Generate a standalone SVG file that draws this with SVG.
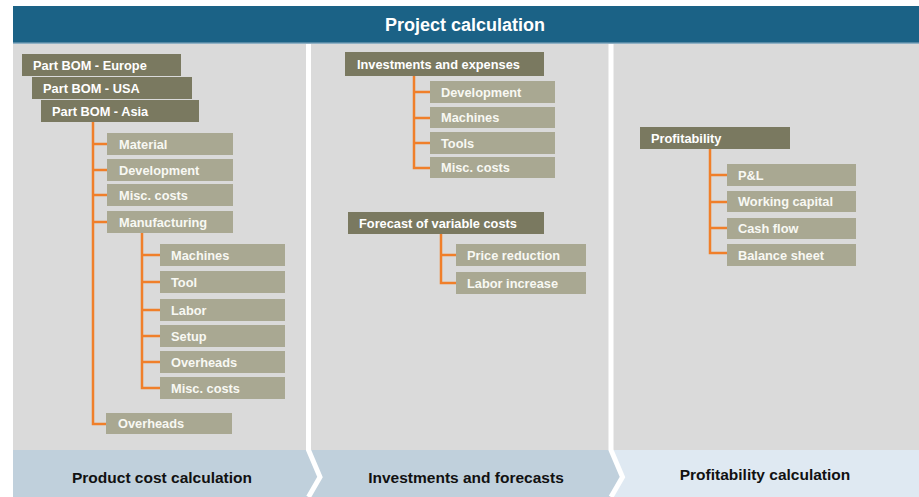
<svg xmlns="http://www.w3.org/2000/svg" width="919" height="497" viewBox="0 0 919 497">
<defs>
<style>
.hd{fill:#1b6286}
.panel{fill:#dadada}
.band1{fill:#c0d0dc}
.band2{fill:#dfe9f2}
.dk{fill:#7a7960}
.lt{fill:#a9a892}
.t{font-family:"Liberation Sans",Arial,sans-serif;font-weight:bold;font-size:12.8px;fill:#ffffff}
.tl{font-family:"Liberation Sans",Arial,sans-serif;font-weight:bold;font-size:12.8px;fill:#f8f8f3}
.ht{font-family:"Liberation Sans",Arial,sans-serif;font-weight:bold;font-size:18px;fill:#ffffff}
.bt{font-family:"Liberation Sans",Arial,sans-serif;font-weight:bold;font-size:15.5px;fill:#111111}
.c{fill:none;stroke:#f07f2a;stroke-width:2.5}
.sep{fill:none;stroke:#ffffff;stroke-width:5}
</style>
</defs>
<rect x="0" y="0" width="919" height="497" fill="#ffffff"/>
<g id="header">
<rect class="hd" x="13" y="6" width="906" height="37"/>
<rect x="13" y="42.5" width="906" height="1.5" fill="#8fb0c4"/>
<text class="ht" x="465" y="31" text-anchor="middle">Project calculation</text>
</g>
<g id="panels">
<rect class="panel" x="13" y="44" width="906" height="406"/>
<rect class="band1" x="13" y="450" width="601" height="47"/>
<rect class="band2" x="614" y="450" width="305" height="47"/>
<polygon class="band1" points="611,450 623,477 611,497 605,497 605,450"/>
<polyline class="sep" points="308.5,44 308.5,450 320,477 308.5,497"/>
<polyline class="sep" points="611,44 611,450 622.5,477 611,497"/>
<text class="bt" x="162" y="483" text-anchor="middle">Product cost calculation</text>
<text class="bt" x="466" y="483" text-anchor="middle">Investments and forecasts</text>
<text class="bt" x="765" y="480" text-anchor="middle">Profitability calculation</text>
</g>
<g id="connectors">
<path class="c" d="M93,122 V424 H106 M93,144 H107 M93,170 H107 M93,195 H107 M93,222 H107"/>
<path class="c" d="M142,233 V388 H160 M142,255 H160 M142,282 H160 M142,310 H160 M142,336 H160 M142,362 H160"/>
<path class="c" d="M414,76 V168 H430 M414,92 H430 M414,118 H430 M414,143 H430"/>
<path class="c" d="M441,234 V283 H456 M441,255 H456"/>
<path class="c" d="M710,149 V253 H727 M710,175 H727 M710,202 H727 M710,228 H727"/>
</g>
<g id="n-bom-europe"><rect class="dk" x="22" y="54" width="159" height="22"/><text class="t" x="33" y="69.5">Part BOM - Europe</text></g>
<g id="n-bom-usa"><rect class="dk" x="32" y="77" width="160" height="22"/><text class="t" x="43" y="92.5">Part BOM - USA</text></g>
<g id="n-bom-asia"><rect class="dk" x="41" y="100" width="158" height="22"/><text class="t" x="52" y="115.5">Part BOM - Asia</text></g>
<g id="n-material"><rect class="lt" x="107" y="133" width="126" height="22"/><text class="tl" x="119" y="148.5">Material</text></g>
<g id="n-development"><rect class="lt" x="107" y="159" width="126" height="22"/><text class="tl" x="119" y="174.5">Development</text></g>
<g id="n-misc1"><rect class="lt" x="107" y="184" width="126" height="22"/><text class="tl" x="119" y="199.5">Misc. costs</text></g>
<g id="n-manufacturing"><rect class="lt" x="107" y="211" width="126" height="22"/><text class="tl" x="119" y="226.5">Manufacturing</text></g>
<g id="n-machines1"><rect class="lt" x="160" y="244" width="125" height="22"/><text class="tl" x="171" y="259.5">Machines</text></g>
<g id="n-tool"><rect class="lt" x="160" y="271" width="125" height="22"/><text class="tl" x="171" y="286.5">Tool</text></g>
<g id="n-labor"><rect class="lt" x="160" y="299" width="125" height="22"/><text class="tl" x="171" y="314.5">Labor</text></g>
<g id="n-setup"><rect class="lt" x="160" y="325" width="125" height="22"/><text class="tl" x="171" y="340.5">Setup</text></g>
<g id="n-overheads1"><rect class="lt" x="160" y="351" width="125" height="22"/><text class="tl" x="171" y="366.5">Overheads</text></g>
<g id="n-misc2"><rect class="lt" x="160" y="377" width="125" height="22"/><text class="tl" x="171" y="392.5">Misc. costs</text></g>
<g id="n-overheads2"><rect class="lt" x="106" y="413" width="126" height="21"/><text class="tl" x="118" y="428">Overheads</text></g>
<g id="n-invest"><rect class="dk" x="345" y="52" width="199" height="24"/><text class="t" x="357" y="68.5">Investments and expenses</text></g>
<g id="n-development2"><rect class="lt" x="430" y="81" width="125" height="22"/><text class="tl" x="441" y="96.5">Development</text></g>
<g id="n-machines2"><rect class="lt" x="430" y="107" width="125" height="21"/><text class="tl" x="441" y="122">Machines</text></g>
<g id="n-tools"><rect class="lt" x="430" y="132" width="125" height="22"/><text class="tl" x="441" y="147.5">Tools</text></g>
<g id="n-misc3"><rect class="lt" x="430" y="157" width="125" height="21"/><text class="tl" x="441" y="172">Misc. costs</text></g>
<g id="n-forecast"><rect class="dk" x="348" y="212" width="196" height="22"/><text class="t" x="359" y="227.5">Forecast of variable costs</text></g>
<g id="n-price"><rect class="lt" x="456" y="244" width="130" height="22"/><text class="tl" x="467" y="259.5">Price reduction</text></g>
<g id="n-laborinc"><rect class="lt" x="456" y="272" width="130" height="22"/><text class="tl" x="467" y="287.5">Labor increase</text></g>
<g id="n-profit"><rect class="dk" x="640" y="127" width="150" height="22"/><text class="t" x="651" y="142.5">Profitability</text></g>
<g id="n-pl"><rect class="lt" x="727" y="164" width="129" height="22"/><text class="tl" x="738" y="179.5">P&amp;L</text></g>
<g id="n-wc"><rect class="lt" x="727" y="191" width="129" height="21"/><text class="tl" x="738" y="206">Working capital</text></g>
<g id="n-cash"><rect class="lt" x="727" y="218" width="129" height="21"/><text class="tl" x="738" y="233">Cash flow</text></g>
<g id="n-balance"><rect class="lt" x="727" y="244" width="129" height="22"/><text class="tl" x="738" y="259.5">Balance sheet</text></g>
</svg>
